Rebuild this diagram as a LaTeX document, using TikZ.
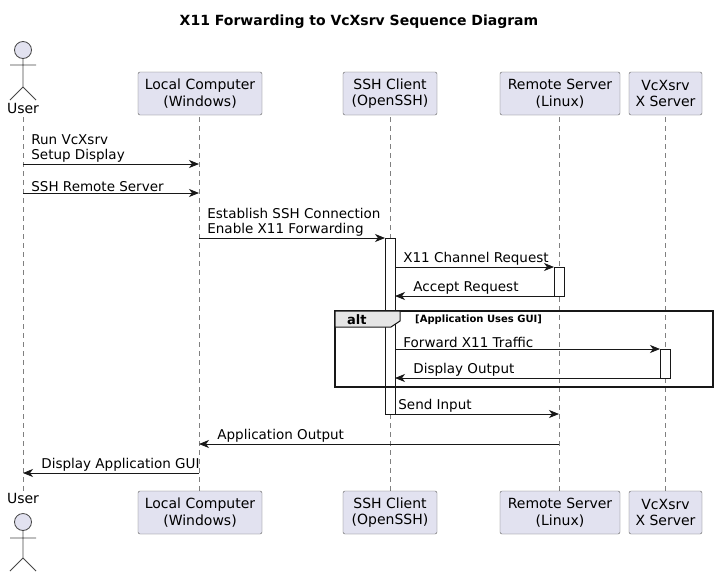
\documentclass[tikz,border=0pt]{standalone}
\usepackage{fontspec}
\setmainfont{DejaVu Sans}
\usetikzlibrary{arrows.meta}
\definecolor{pfill}{HTML}{E2E2F0}
\definecolor{pline}{HTML}{181818}
\begin{document}
\begin{tikzpicture}[x=1pt,y=-1pt,
  part/.style={draw=pline!70,fill=pfill,rounded corners=2pt,align=center,inner sep=0pt,font=\fontsize{14}{16.5}\selectfont},
  life/.style={draw=gray,dash pattern=on 5pt off 4pt,line width=0.6pt},
  msg/.style={draw=pline,line width=0.8pt,-{Stealth[length=10pt,width=8pt,inset=3pt]}},
  lbl/.style={anchor=south west,inner sep=0pt,align=left,font=\fontsize{13.5}{15}\selectfont},
  act/.style={draw=pline,fill=white,line width=0.8pt},
  actor/.style={draw=pline!80,fill=pfill,line width=0.8pt},
  stick/.style={draw=pline!80,line width=0.8pt}]
\useasboundingbox (0,0) rectangle (718,571);
\node[font=\bfseries\fontsize{14}{16}\selectfont] (title) at (359,22) {X11 Forwarding to VcXsrv Sequence Diagram};
% lifelines
\foreach \x in {23,199,390,559,665} \draw[life] (\x,117) -- (\x,491);
% top participants
\node[part,minimum width=124pt,minimum height=43pt] (lc) at (200,93.5) {Local Computer\\(Windows)};
\node[part,minimum width=94pt,minimum height=43pt] (sc) at (390,93.5) {SSH Client\\(OpenSSH)};
\node[part,minimum width=120pt,minimum height=43pt] (rs) at (560,93.5) {Remote Server\\(Linux)};
\node[part,minimum width=73pt,minimum height=43pt] (vx) at (665.5,93.5) {VcXsrv\\X Server};
\node[part,minimum width=124pt,minimum height=43pt] (lc2) at (200,512.5) {Local Computer\\(Windows)};
\node[part,minimum width=94pt,minimum height=43pt] (sc2) at (390,512.5) {SSH Client\\(OpenSSH)};
\node[part,minimum width=120pt,minimum height=43pt] (rs2) at (560,512.5) {Remote Server\\(Linux)};
\node[part,minimum width=73pt,minimum height=43pt] (vx2) at (665.5,512.5) {VcXsrv\\X Server};
% actors
\draw[actor] (23,50) circle (8.5);
\draw[stick] (23,58.5) -- (23,87) (10,65) -- (36,65) (10,100) -- (23,87) -- (36,100);
\node[font=\fontsize{14}{16}\selectfont] (u1) at (23,108) {User};
\node[font=\fontsize{14}{16}\selectfont] (u2) at (23,498) {User};
\draw[actor] (23,522) circle (8.5);
\draw[stick] (23,530.5) -- (23,558) (10,538) -- (36,538) (10,571) -- (23,558) -- (36,571);
% activations
\draw[act] (385,238) rectangle (395,414);
\draw[act] (554,267) rectangle (564,296);
\draw[act] (660,349) rectangle (670,378);
% alt
\draw[line width=1.5pt,draw=pline] (335,311) rectangle (713,387);
\draw[fill=gray!20,draw=pline,line width=1pt] (335,311) -- (400,311) -- (400,321) -- (391,327) -- (335,327) -- cycle;
\node[font=\bfseries\fontsize{13}{15}\selectfont,anchor=west,inner sep=0pt] (alt) at (347,319.5) {alt};
\node[font=\bfseries\fontsize{10}{12}\selectfont,anchor=west,inner sep=0pt] (cond) at (415,320) {[Application Uses GUI]};
% messages
\coordinate (a1s) at (23,164); \coordinate (a1e) at (199,164);
\draw[msg] (a1s) -- (a1e) node[lbl,at={(31,163)}] {Run VcXsrv\\Setup Display};
\coordinate (a2s) at (23,193); \coordinate (a2e) at (199,193);
\draw[msg] (a2s) -- (a2e) node[lbl,at={(31,192)}] {SSH Remote Server};
\coordinate (a3s) at (199,238); \coordinate (a3e) at (385,238);
\draw[msg] (a3s) -- (a3e) node[lbl,at={(207,237)}] {Establish SSH Connection\\Enable X11 Forwarding};
\coordinate (a4s) at (395,267); \coordinate (a4e) at (554,267);
\draw[msg] (a4s) -- (a4e) node[lbl,at={(403,266)}] {X11 Channel Request};
\coordinate (a5s) at (554,296); \coordinate (a5e) at (395,296);
\draw[msg] (a5s) -- (a5e) node[lbl,at={(413,295)}] {Accept Request};
\coordinate (a6s) at (395,349); \coordinate (a6e) at (660,349);
\draw[msg] (a6s) -- (a6e) node[lbl,at={(403,348)}] {Forward X11 Traffic};
\coordinate (a7s) at (660,378); \coordinate (a7e) at (395,378);
\draw[msg] (a7s) -- (a7e) node[lbl,at={(413,377)}] {Display Output};
\coordinate (a8s) at (395,414); \coordinate (a8e) at (559,414);
\draw[msg] (a8s) -- (a8e) node[lbl,at={(398,413)}] {Send Input};
\coordinate (a9s) at (559,444); \coordinate (a9e) at (199,444);
\draw[msg] (a9s) -- (a9e) node[lbl,at={(217,443)}] {Application Output};
\coordinate (a10s) at (199,473); \coordinate (a10e) at (23,473);
\draw[msg] (a10s) -- (a10e) node[lbl,at={(41,472)}] {Display Application GUI};
\end{tikzpicture}
\end{document}
